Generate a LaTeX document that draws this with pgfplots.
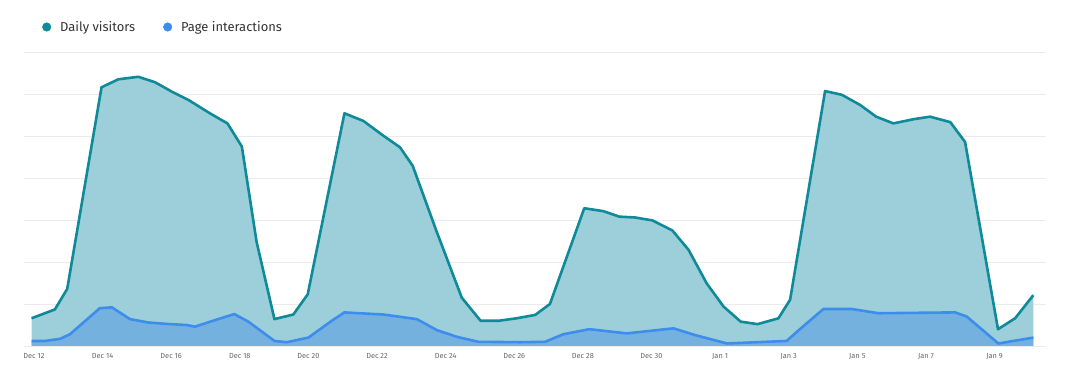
\documentclass[border=0pt]{standalone}
\usepackage{pgfplots}
\pgfplotsset{compat=1.18}
\usepackage{fontspec}
\setmainfont{Fira Sans}
\definecolor{topline}{HTML}{0F8A99}
\definecolor{topfill}{HTML}{9CCFD9}
\definecolor{botline}{HTML}{3D8EEC}
\definecolor{botfill}{HTML}{74B1DF}
\definecolor{gridc}{HTML}{EBEBEB}
\definecolor{tickc}{HTML}{666666}
\definecolor{legc}{HTML}{333333}

\pgfplotstableread{
d v
-0.07 0.66
0.61 0.87
0.97 1.36
1.97 6.16
2.46 6.35
3.04 6.41
3.53 6.28
4.01 6.06
4.50 5.86
5.13 5.54
5.64 5.30
6.06 4.75
6.49 2.48
7.01 0.64
7.56 0.75
7.98 1.23
9.05 5.54
9.60 5.36
10.18 5.01
10.67 4.73
11.04 4.29
11.74 2.72
12.47 1.15
13.02 0.60
13.54 0.60
14.07 0.66
14.61 0.74
15.04 1.00
16.04 3.28
16.60 3.21
17.06 3.08
17.52 3.06
18.03 2.99
18.61 2.75
19.08 2.29
19.61 1.49
20.10 0.94
20.60 0.58
21.09 0.52
21.70 0.66
22.04 1.10
23.06 6.07
23.55 5.98
24.08 5.74
24.55 5.46
25.05 5.30
25.64 5.40
26.12 5.46
26.71 5.33
27.14 4.86
28.10 0.40
28.60 0.66
29.13 1.21
}\visitors

\pgfplotstableread{
d v
-0.07 0.12
0.32 0.12
0.76 0.17
1.05 0.28
1.92 0.90
2.27 0.92
2.80 0.64
3.33 0.56
3.97 0.52
4.45 0.50
4.69 0.46
5.37 0.64
5.84 0.76
6.25 0.58
7.01 0.12
7.37 0.09
8.00 0.20
8.68 0.60
9.05 0.80
9.94 0.76
10.18 0.75
11.16 0.64
11.74 0.38
12.32 0.22
12.95 0.10
14.17 0.09
14.90 0.10
15.43 0.28
16.19 0.40
17.28 0.30
18.64 0.42
19.27 0.26
20.20 0.06
21.94 0.12
22.24 0.34
23.01 0.88
23.84 0.88
24.62 0.78
26.85 0.80
27.19 0.70
28.11 0.06
29.13 0.20
}\interactions

\begin{document}
\begin{tikzpicture}
\useasboundingbox (0,0) rectangle (1069bp,382bp);
\begin{axis}[
  at={(24bp,36bp)}, anchor=south west,
  scale only axis, width=1022bp, height=294bp,
  xmin=-0.29, xmax=29.5, ymin=0, ymax=7,
  ytick={0,1,2,3,4,5,6,7}, yticklabels={},
  ymajorgrids, grid style={gridc, line width=0.8bp},
  axis line style={draw=none},
  major tick length=0pt,
  xtick={0,2,4,6,8,10,12,14,16,18,20,22,24,26,28},
  xticklabels={Dec 12,Dec 14,Dec 16,Dec 18,Dec 20,Dec 22,Dec 24,Dec 26,Dec 28,Dec 30,Jan 1,Jan 3,Jan 5,Jan 7,Jan 9},
  xticklabel style={font=\fontsize{7.4}{8.5}\selectfont, text=tickc, yshift=-4bp},
  legend style={draw=none, fill=none, at={(0,1)}, anchor=west, xshift=18bp, yshift=25bp,
    font=\fontsize{13}{15}\selectfont, text=legc, inner sep=0pt,
    /tikz/every odd column/.append style={column sep=7bp},
    /tikz/every even column/.append style={column sep=26bp}},
  legend columns=2,
  legend image code/.code={\fill[#1] (0bp,0bp) circle (4.3bp);},
]
\addplot[fill=topfill, draw=none, forget plot] table[x=d,y=v] {\visitors} \closedcycle;
\addplot[fill=botfill, draw=none, forget plot] table[x=d,y=v] {\interactions} \closedcycle;
\addplot[topline, line width=2.6bp, line join=round, forget plot] table[x=d,y=v] {\visitors};
\addplot[botline, line width=2.6bp, line join=round, forget plot] table[x=d,y=v] {\interactions};
\addlegendimage{topline}
\addlegendentry{Daily visitors}
\addlegendimage{botline}
\addlegendentry{Page interactions}
\end{axis}
\end{tikzpicture}
\end{document}
